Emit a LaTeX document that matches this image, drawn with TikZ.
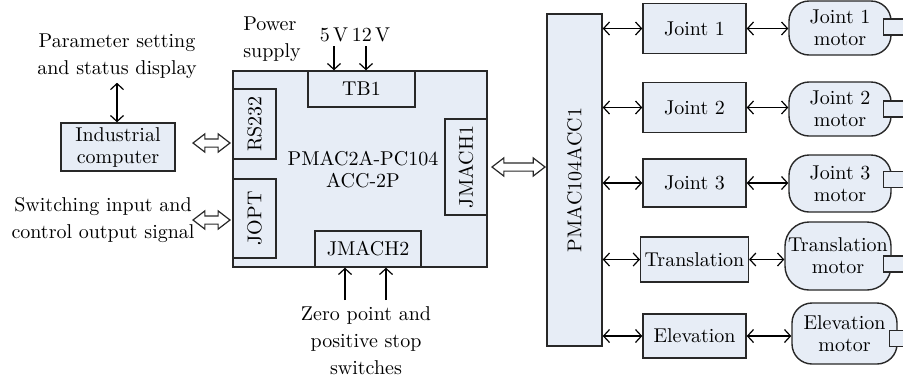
\documentclass[tikz,border=0pt]{standalone}
\usepackage{xcolor}
\usepackage{tikz}
\usetikzlibrary{shapes.arrows, positioning, arrows.meta, calc}
\definecolor{pmFill}{RGB}{231,237,246}
\definecolor{pmLine}{RGB}{ 40, 40, 40}

\begin{document}
\begin{tikzpicture}[
    x=0.5pt, y=-0.5pt,
    font=\fontsize{10}{13.5}\selectfont,
    blk/.style={draw=pmLine, fill=pmFill, line width=0.7pt, inner sep=2pt, align=center,
                font=\fontsize{10}{11}\selectfont},
    vblk/.style={blk, rotate=90},
    motor/.style={blk, rounded corners=10pt, inner sep=1pt},
    txt/.style={align=center, inner sep=2pt},
    link/.style={{Straight Barb[length=3pt,width=6.5pt]}-{Straight Barb[length=3pt,width=6.5pt]}, line width=0.6pt},
    feed/.style={-{Straight Barb[length=3pt,width=6.5pt]}, line width=0.6pt},
    bus/.style={double arrow, draw=pmLine, fill=white, line width=0.6pt, inner xsep=0pt, inner ysep=1.75pt,
                minimum width=8.5pt, double arrow head extend=2.5pt, double arrow tip angle=75}
  ]
  \useasboundingbox (0,0) rectangle (903,381);
  % controller board
  \node[blk, minimum width=127pt, minimum height=98pt] (board) at (360,169) {};
  \node[blk, minimum width=53.5pt, minimum height=18pt] (tb1) at (361.5,89) {TB1};
  \node[vblk, minimum width=35pt, minimum height=21.5pt] (rs) at (254.5,124) {RS232};
  \node[vblk, minimum width=39.5pt, minimum height=21.5pt] (jopt) at (254.5,218.5) {JOPT};
  \node[vblk, minimum width=48pt, minimum height=21pt] (jm1) at (466,167) {JMACH1};
  \node[blk, minimum width=53pt, minimum height=18pt] (jm2) at (368,249) {JMACH2};
  \node[txt, font=\fontsize{10}{11}\selectfont] (brd) at (363,170) {PMAC2A-PC104\\ACC-2P};

  % power supply (top)
  \node[txt, align=left] (pwr) at (272,39) {Power\\supply};
  \node[txt] (v5) at (334,35) {5\,V};
  \node[txt] (v12) at (371,35) {12\,V};
  \draw[feed] (v5.south) -- (v5.south |- tb1.north);
  \draw[feed] ([xshift=-2.5pt]v12.south) -- ([xshift=-2.5pt]v12.south |- tb1.north);

  % industrial computer (left)
  \node[blk, minimum width=57pt, minimum height=24pt] (ipc) at (118,147) {Industrial\\computer};
  \node[txt] (param) at (117,56) {Parameter setting\\and status display};
  \draw[link] (param.south) -- (param.south |- ipc.north);
  \node[bus, minimum height=18.5pt] (b1) at (211.5,143) {};

  % switching signals (left)
  \node[txt] (sw) at (103,220) {Switching input and\\control output signal};
  \node[bus, minimum height=18.5pt] (b2) at (211.5,220) {};

  % zero point switches (bottom)
  \node[txt] (zero) at (366,341) {Zero point and\\positive stop\\switches};
  \coordinate (z1) at (345,300);
  \coordinate (z2) at (386,300);
  \foreach \z in {z1,z2} \draw[feed] (\z) -- (\z |- board.south);

  % axis card
  \node[bus, minimum height=26.5pt] (b3) at (518.5,167) {};
  \node[vblk, minimum width=166pt, minimum height=27.5pt] (acc) at (574.5,180) {PMAC104ACC1};

  % drivers
  \node[blk, minimum width=51.5pt, minimum height=25pt] (d1) at (694.5,28.5) {Joint 1};
  \node[blk, minimum width=51.5pt, minimum height=25pt] (d2) at (694.5,107.5) {Joint 2};
  \node[blk, minimum width=51.5pt, minimum height=24pt] (d3) at (694.5,183) {Joint 3};
  \node[blk, minimum width=51.5pt, minimum height=22.5pt] (d4) at (694.5,259.5) {Translation};
  \node[blk, minimum width=51.5pt, minimum height=22pt] (d5) at (694.5,336) {Elevation};

  % motors
  \node[motor, minimum width=51pt, minimum height=27pt] (m1) at (840,28) {Joint 1\\motor};
  \node[motor, minimum width=51pt, minimum height=27pt] (m2) at (840,109) {Joint 2\\motor};
  \node[motor, minimum width=51pt, minimum height=28.5pt] (m3) at (840,183.5) {Joint 3\\motor};
  \node[motor, minimum width=53pt, minimum height=34pt, rounded corners=12pt] (m4) at (838,256) {Translation\\motor};
  \node[motor, minimum width=52.5pt, minimum height=30.5pt] (m5) at (844.5,333.5) {Elevation\\motor};

  \foreach \i in {1,...,5} {
    \draw[link] (acc.south |- d\i.west) -- (d\i.west);
    \draw[link] (d\i.east) -- (d\i.east -| m\i.west);
  }

  % motor shafts
  \coordinate (edge) at (904,0);
  \foreach \m/\dy in {m1/-1, m2/0, m3/-4, m4/8, m5/5} {
    \coordinate (s) at ($(\m.east)+(-8,\dy)$);
    \fill[pmFill] ($(s)+(0,-8)$) rectangle ($(s -| edge)+(0,8)$);
    \draw[draw=pmLine, line width=0.7pt] ($(s -| edge)+(0,-8)$) -| ($(s)+(0,8)$) -- ($(s -| edge)+(0,8)$);
  }
\end{tikzpicture}
\end{document}
